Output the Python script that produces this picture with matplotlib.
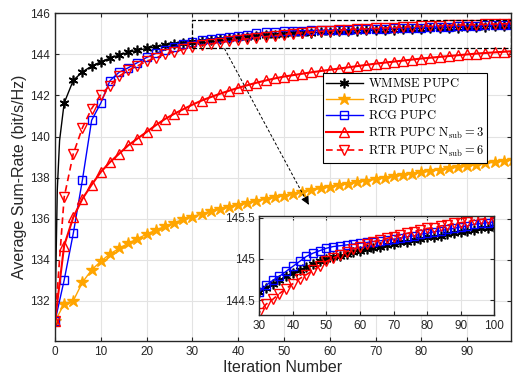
import numpy as np
import matplotlib
matplotlib.use('Agg')
import matplotlib.pyplot as plt
from matplotlib.patches import Rectangle

plt.rcParams['font.family'] = ['Liberation Sans', 'DejaVu Sans']
plt.rcParams['mathtext.fontset'] = 'cm'

# iterations at which every curve is sampled (every second one)
it = list(range(0, 101, 2))

# WMMSE has two extra samples in the first iteration
it_wmmse = [0, 0.5, 1] + list(range(2, 101, 2))
wmmse = [131.0, 137.4, 139.8, 141.63, 142.74, 143.15, 143.43, 143.64, 143.82, 143.97,
         144.1, 144.2, 144.29, 144.37, 144.44, 144.5, 144.55, 144.6, 144.65, 144.7,
         144.74, 144.79, 144.83, 144.87, 144.9, 144.94, 144.97, 145.0, 145.02, 145.04,
         145.06, 145.08, 145.1, 145.12, 145.13, 145.15, 145.17, 145.18, 145.2, 145.21,
         145.23, 145.24, 145.26, 145.27, 145.28, 145.3, 145.31, 145.33, 145.34, 145.35,
         145.37, 145.38, 145.39]

rgd = [131.0, 131.84, 132.0, 132.9, 133.5, 133.92, 134.28, 134.55, 134.8, 135.02,
       135.24, 135.44, 135.62, 135.8, 135.96, 136.1, 136.23, 136.36, 136.47, 136.58,
       136.68, 136.77, 136.86, 136.95, 137.04, 137.12, 137.21, 137.3, 137.38, 137.47,
       137.55, 137.63, 137.7, 137.78, 137.85, 137.92, 137.99, 138.06, 138.12, 138.19,
       138.25, 138.32, 138.38, 138.45, 138.51, 138.57, 138.63, 138.69, 138.75, 138.81,
       138.86]

rcg = [131.0, 133.0, 135.29, 137.9, 140.79, 141.63, 142.72, 143.13, 143.35, 143.6,
       143.85, 144.05, 144.22, 144.37, 144.5, 144.6, 144.68, 144.74, 144.79, 144.85,
       144.91, 144.97, 145.03, 145.07, 145.1, 145.13, 145.15, 145.16, 145.17, 145.18,
       145.19, 145.2, 145.21, 145.22, 145.23, 145.24, 145.25, 145.27, 145.28, 145.3,
       145.31, 145.33, 145.34, 145.36, 145.37, 145.39, 145.4, 145.42, 145.43, 145.44,
       145.45]

rtr3 = [131.0, 134.69, 136.07, 136.97, 137.65, 138.27, 138.75, 139.16, 139.57, 139.9,
        140.22, 140.55, 140.85, 141.1, 141.33, 141.55, 141.75, 141.92, 142.08, 142.23,
        142.37, 142.5, 142.62, 142.73, 142.83, 142.92, 142.99, 143.06, 143.13, 143.19,
        143.25, 143.31, 143.37, 143.43, 143.49, 143.55, 143.6, 143.65, 143.7, 143.75,
        143.8, 143.84, 143.88, 143.92, 143.96, 144.0, 144.04, 144.07, 144.1, 144.13,
        144.16]

rtr6 = [131.0, 137.04, 139.16, 140.43, 141.36, 142.04, 142.48, 142.94, 143.23, 143.44,
        143.67, 143.83, 144.01, 144.12, 144.24, 144.35, 144.45, 144.51, 144.58, 144.64,
        144.7, 144.76, 144.81, 144.86, 144.92, 144.97, 145.01, 145.05, 145.09, 145.12,
        145.15, 145.18, 145.21, 145.23, 145.25, 145.27, 145.29, 145.31, 145.33, 145.35,
        145.37, 145.38, 145.4, 145.41, 145.43, 145.44, 145.45, 145.47, 145.48, 145.49,
        145.5]

orange = '#FFA500'
red = '#FF0000'
blue = '#0000FF'

labels = [r'$\mathrm{WMMSE\ PUPC}$', r'$\mathrm{RGD\ PUPC}$', r'$\mathrm{RCG\ PUPC}$',
          r'$\mathrm{RTR\ PUPC\ N_{sub}=3}$', r'$\mathrm{RTR\ PUPC\ N_{sub}=6}$']


def draw_curves(ax, ms=1.0):
    # markers only on the even iterations for WMMSE
    ax.plot(it_wmmse, wmmse, color='k', lw=1.0, marker=(6, 2, 0), ms=7 * ms,
            mew=1.2, markevery=[0] + list(range(3, len(it_wmmse))), label=labels[0])
    ax.plot(it, rgd, color=orange, lw=1.0, marker='*', ms=9 * ms, mfc=orange,
            mec=orange, label=labels[1])
    ax.plot(it, rcg, color=blue, lw=1.0, marker='s', ms=5.5 * ms, mfc='none',
            mec=blue, mew=1.0, label=labels[2])
    ax.plot(it, rtr3, color=red, lw=1.5, marker='^', ms=7 * ms, mfc='none',
            mec=red, mew=1.0, label=labels[3])
    ax.plot(it, rtr6, color=red, lw=1.2, ls=(0, (4, 2.5)), marker='v', ms=7 * ms,
            mfc='none', mec=red, mew=1.0, label=labels[4])


def style_axes(ax, fs):
    ax.grid(True, color='#e3e3e3', lw=0.8)
    ax.set_axisbelow(True)
    ax.tick_params(direction='in', top=True, right=True, labelsize=fs,
                   colors='#262626', length=3, width=0.8)
    for s in ax.spines.values():
        s.set_linewidth(1.0)
        s.set_color('#262626')


fig = plt.figure(figsize=(5.13, 3.82), dpi=100)
ax = fig.add_axes([0.1072, 0.108, 0.889, 0.857])
draw_curves(ax)
style_axes(ax, 8.5)
ax.set_xlim(0, 99.6)
ax.set_ylim(130.05, 146)
ax.set_xticks(range(0, 91, 10))
ax.set_yticks(range(132, 147, 2))
ax.set_xlabel('Iteration Number', fontsize=11.5, color='#262626', labelpad=2)
ax.set_ylabel('Average Sum-Rate (bit/s/Hz)', fontsize=11.5, color='#262626', labelpad=2)

leg = ax.legend(loc='upper left', bbox_to_anchor=(0.573, 0.836), fontsize=9,
                fancybox=False, edgecolor='k', framealpha=1, handlelength=2.9,
                borderpad=0.3, labelspacing=0.25, handletextpad=0.4)
leg.get_frame().set_linewidth(0.8)

# zoomed region and pointer to the inset
ax.add_patch(Rectangle((30, 144.3), 69.5, 1.37, fill=False, ls='--', lw=0.9,
                       ec='k', zorder=5))
ax.plot([37, 55.2], [144.29, 136.75], ls=(0, (3, 2)), color='k', lw=0.7, zorder=5)
ax.annotate('', xy=(55.7, 136.56), xytext=(55.0, 136.85),
            arrowprops=dict(arrowstyle='-|>', color='k', lw=0.7, mutation_scale=12))

ins = fig.add_axes([0.5055, 0.1754, 0.458, 0.259])
draw_curves(ins)
style_axes(ins, 8.5)
ins.set_xlim(30, 100)
ins.set_ylim(144.32, 145.52)
ins.set_xticks(range(30, 101, 10))
ins.set_yticks([144.5, 145, 145.5])
ins.set_yticklabels(['144.5', '145', '145.5'])

fig.savefig('out.png', dpi=100)
